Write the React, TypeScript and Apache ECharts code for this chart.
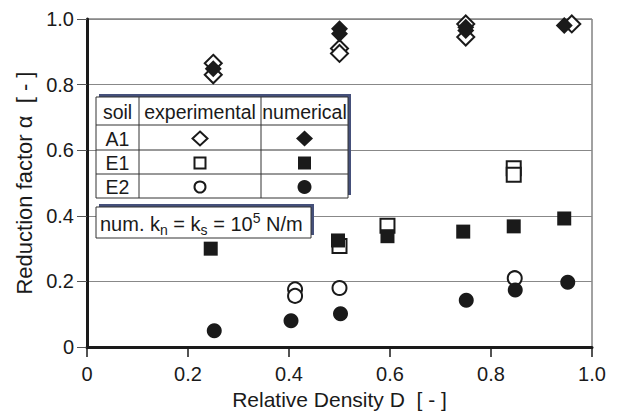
import React, { useEffect, useRef } from 'react';
import * as echarts from 'echarts';

// Reduction factor alpha vs relative density D
const a1Exp: number[][] = [[0.25, 0.865], [0.25, 0.83], [0.5, 0.91], [0.5, 0.895], [0.75, 0.985], [0.75, 0.945], [0.96, 0.985]];
const a1Num: number[][] = [[0.25, 0.848], [0.5, 0.97], [0.5, 0.955], [0.75, 0.975], [0.75, 0.965], [0.945, 0.98]];
const e1Exp: number[][] = [[0.5, 0.308], [0.595, 0.37], [0.845, 0.545], [0.845, 0.525]];
const e1Num: number[][] = [[0.245, 0.3], [0.497, 0.325], [0.595, 0.338], [0.745, 0.352], [0.845, 0.368], [0.945, 0.392]];
const e2Exp: number[][] = [[0.412, 0.176], [0.412, 0.156], [0.5, 0.18], [0.847, 0.21]];
const e2Num: number[][] = [[0.252, 0.05], [0.404, 0.08], [0.502, 0.102], [0.751, 0.143], [0.848, 0.174], [0.952, 0.198]];

const tableHeader = ['soil', 'experimental', 'numerical'];
const tableRows = ['A1', 'E1', 'E2'];

const xName = 'Relative Density D  [ - ]';
const yName = 'Reduction factor α  [ - ]';

const FONT = "'Liberation Sans', Arial, sans-serif";
const INK = '#1a1a1a';

export default function App() {
  const ref = useRef<HTMLDivElement>(null);
  useEffect(() => {
    document.body.style.margin = '0';
    if (!ref.current) return;
    const chart = echarts.init(ref.current, null, { renderer: 'svg' });

    const open = { color: '#ffffff', borderColor: INK, borderWidth: 2, opacity: 1 };
    const filled = { color: INK, borderColor: INK, borderWidth: 0, opacity: 1 };
    const mk = (data: number[][], symbol: string, size: number, style: any, z: number) => ({
      type: 'scatter', data, symbol, symbolSize: size, itemStyle: style, z, silent: true,
    });

    // table geometry
    const tx = 96, ty = 97, tw = 252;
    const colX = [96, 139, 261, 348];
    const rowY = [97, 125, 150, 174, 198];
    const elements: any[] = [];
    elements.push({ type: 'rect', shape: { x: tx + 3, y: ty - 3, width: tw, height: rowY[4] - ty }, style: { fill: '#45507a' }, z: 10 });
    elements.push({ type: 'rect', shape: { x: tx, y: ty, width: tw, height: rowY[4] - ty }, style: { fill: '#fff', stroke: '#333', lineWidth: 1 }, z: 11 });
    [colX[1], colX[2]].forEach((cx) => elements.push({ type: 'line', shape: { x1: cx, y1: ty, x2: cx, y2: rowY[4] }, style: { stroke: '#333', lineWidth: 1 }, z: 12 }));
    [rowY[1], rowY[2], rowY[3]].forEach((ry) => elements.push({ type: 'line', shape: { x1: tx, y1: ry, x2: tx + tw, y2: ry }, style: { stroke: '#333', lineWidth: 1 }, z: 12 }));
    const centers = [(colX[0] + colX[1]) / 2, (colX[1] + colX[2]) / 2, (colX[2] + colX[3]) / 2];
    tableHeader.forEach((h, i) => elements.push({ type: 'text', x: centers[i], y: (rowY[0] + rowY[1]) / 2 + 1, style: { text: h, fontSize: 19.5, fontFamily: FONT, fill: INK, align: 'center', verticalAlign: 'middle' }, z: 13 }));
    tableRows.forEach((r, i) => {
      const cy = (rowY[i + 1] + rowY[i + 2]) / 2 + 1;
      elements.push({ type: 'text', x: centers[0], y: cy, style: { text: r, fontSize: 19.5, fontFamily: FONT, fill: INK, align: 'center', verticalAlign: 'middle' }, z: 13 });
      const ex = centers[1], nx = centers[2];
      if (i === 0) {
        elements.push({ type: 'polygon', shape: { points: [[ex, cy - 7], [ex + 7.5, cy], [ex, cy + 7], [ex - 7.5, cy]] }, style: { fill: '#fff', stroke: INK, lineWidth: 2 }, z: 13 });
        elements.push({ type: 'polygon', shape: { points: [[nx, cy - 8], [nx + 8.5, cy], [nx, cy + 8], [nx - 8.5, cy]] }, style: { fill: INK }, z: 13 });
      } else if (i === 1) {
        elements.push({ type: 'rect', shape: { x: ex - 5.5, y: cy - 5.5, width: 11, height: 11 }, style: { fill: '#fff', stroke: INK, lineWidth: 2 }, z: 13 });
        elements.push({ type: 'rect', shape: { x: nx - 6.5, y: cy - 6.5, width: 13, height: 13 }, style: { fill: INK }, z: 13 });
      } else {
        elements.push({ type: 'circle', shape: { cx: ex, cy, r: 5.5 }, style: { fill: '#fff', stroke: INK, lineWidth: 2 }, z: 13 });
        elements.push({ type: 'circle', shape: { cx: nx, cy, r: 7 }, style: { fill: INK }, z: 13 });
      }
    });
    // k box
    const kx = 96, ky = 207, kw = 215, kh = 31;
    elements.push({ type: 'rect', shape: { x: kx + 3, y: ky - 3, width: kw, height: kh }, style: { fill: '#45507a' }, z: 10 });
    elements.push({ type: 'rect', shape: { x: kx, y: ky, width: kw, height: kh }, style: { fill: '#fff', stroke: '#333', lineWidth: 1 }, z: 11 });
    elements.push({
      type: 'text', x: kx + 4, y: ky + kh / 2 + 1, z: 13,
      style: {
        text: '{b|num. k}{sub|n}{b| = k}{sub|s}{b| = 10}{sup|5}{b| N/m}',
        align: 'left', verticalAlign: 'middle', fill: INK, fontFamily: FONT,
        rich: {
          b: { fontSize: 20, lineHeight: 26, verticalAlign: 'middle', fontFamily: FONT, fill: INK },
          sub: { fontSize: 14, lineHeight: 14, verticalAlign: 'bottom', fontFamily: FONT, fill: INK },
          sup: { fontSize: 14, lineHeight: 14, verticalAlign: 'top', fontFamily: FONT, fill: INK },
        },
      },
    });

    const fmt = (v: number) => (v === 0 ? '0' : v.toFixed(1));

    chart.setOption({
      animation: false,
      backgroundColor: '#ffffff',
      grid: { left: 87, right: 30, top: 19, bottom: 60, show: true, borderColor: '#444', borderWidth: 1, backgroundColor: 'transparent' },
      xAxis: {
        type: 'value', min: 0, max: 1, interval: 0.2,
        name: xName, nameLocation: 'middle', nameGap: 39,
        nameTextStyle: { fontSize: 21, fontFamily: FONT, color: INK },
        axisLine: { show: true, lineStyle: { color: INK, width: 3 } },
        axisTick: { show: true, inside: false, length: 10, lineStyle: { color: INK, width: 1.5 } },
        axisLabel: { formatter: fmt, fontSize: 20, fontFamily: FONT, color: INK, margin: 17 },
        splitLine: { show: false },
      },
      yAxis: {
        type: 'value', min: 0, max: 1, interval: 0.2,
        name: yName, nameLocation: 'middle', nameGap: 49,
        nameTextStyle: { fontSize: 22, fontFamily: FONT, color: INK },
        axisLine: { show: true, lineStyle: { color: INK, width: 3 } },
        axisTick: { show: true, inside: false, length: 10, lineStyle: { color: '#555', width: 1 } },
        axisLabel: { formatter: fmt, fontSize: 20, fontFamily: FONT, color: INK, margin: 13 },
        splitLine: { show: true, lineStyle: { color: '#888', width: 1 } },
      },
      graphic: { elements },
      series: [
        mk(a1Exp, 'diamond', 17, open, 2),
        mk(a1Num, 'diamond', 17, filled, 3),
        mk(e1Exp, 'rect', 14, open, 2),
        mk(e1Num, 'rect', 14, filled, 3),
        mk(e2Exp, 'circle', 14, open, 2),
        mk(e2Num, 'circle', 15, filled, 3),
      ],
    });
    return () => chart.dispose();
  }, []);
  return <div ref={ref} style={{ width: 622, height: 415 }} />;
}
